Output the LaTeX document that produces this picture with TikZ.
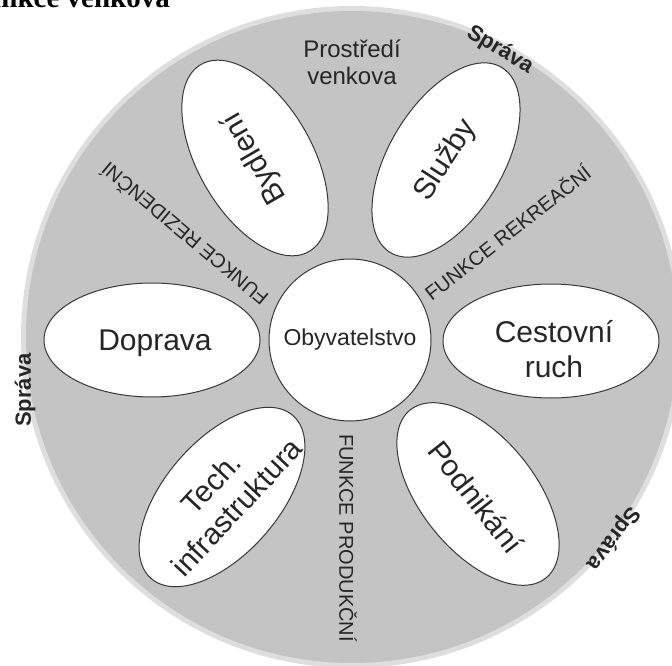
\documentclass[tikz,border=0pt]{standalone}
\usepackage{fontspec}
\setmainfont{Liberation Sans}
\newfontfamily\titlefont{Liberation Serif}
\usetikzlibrary{shapes.geometric}
\definecolor{disk}{HTML}{C4C4C4}
\definecolor{rim}{HTML}{DEDEDE}
\definecolor{ink}{HTML}{262626}
\definecolor{edge}{HTML}{383838}
\begin{document}
\begin{tikzpicture}[x=1pt,y=-1pt,
  petal/.style={ellipse, draw=edge, line width=1pt, fill=white, minimum width=216pt, minimum height=114pt, inner sep=0pt},
  petaltext/.style={text=ink, font=\fontsize{30}{35}\selectfont, align=center, inner sep=0pt},
  functext/.style={text=ink, font=\fontsize{20}{24}\selectfont, inner sep=0pt},
  spravatext/.style={text=ink, font=\bfseries\fontsize{22}{26}\selectfont, inner sep=0pt}]
\useasboundingbox (0,0) rectangle (672,666);
\clip (0,0) rectangle (672,666);
% title (cut off at top)
\node[anchor=base east, inner sep=0pt, font=\titlefont\bfseries\fontsize{29}{34}\selectfont] (title) at (170,8) {Funkce venkova};
% disk
\node[circle, fill=rim, minimum size=662pt, inner sep=0pt] (rimdisk) at (352,337) {};
\node[circle, fill=disk, minimum size=652pt, inner sep=0pt] (disk) at (352,337) {};
% centre
\node[circle, draw=edge, line width=1pt, fill=white, minimum size=162pt, inner sep=0pt, text=ink, font=\fontsize{23}{27}\selectfont] (obyv) at (350,340) {Obyvatelstvo};
% petals
\node[petal, rotate=120] (bydleni) at (255,158) {};
\node[petaltext, rotate=120] (tbydleni) at (bydleni) {Bydlení};
\node[petal, rotate=59] (sluzby) at (446,160) {};
\node[petaltext, rotate=57] (tsluzby) at (sluzby) {Služby};
\node[petal] (doprava) at (152,340) {};
\node[petaltext] (tdoprava) at (155,343) {Doprava};
\node[petal] (cestovni) at (551,341) {};
\node[petaltext] (tcestovni) at (554,349) {Cestovní\\ruch};
\node[petal, rotate=49] (tech) at (222,497) {};
\node[petaltext, rotate=47] (ttech) at (224,495) {Tech.\\infrastruktura};
\node[petal, rotate=-51] (podnikani) at (478,494) {};
\node[petaltext, rotate=-52] (tpodnikani) at (476,497) {Podnikání};
% functions
\node[functext, rotate=140] (frez) at (184,235) {FUNKCE REZIDENČNÍ};
\node[functext, rotate=38] (frek) at (507,232) {FUNKCE REKREAČNÍ};
\node[functext, rotate=-90] (fprod) at (348,538) {FUNKCE PRODUKČNÍ};
% environment
\node[text=ink, font=\fontsize{24}{27}\selectfont, align=center, inner sep=0pt] (prostredi) at (352,62) {Prostředí\\venkova};
% administration
\node[spravatext, rotate=-31] (sprava1) at (500,50) {Správa};
\node[spravatext, rotate=90] (sprava2) at (25,390) {Správa};
\node[spravatext, rotate=-127] (sprava3) at (613,538) {Správa};
\end{tikzpicture}
\end{document}
